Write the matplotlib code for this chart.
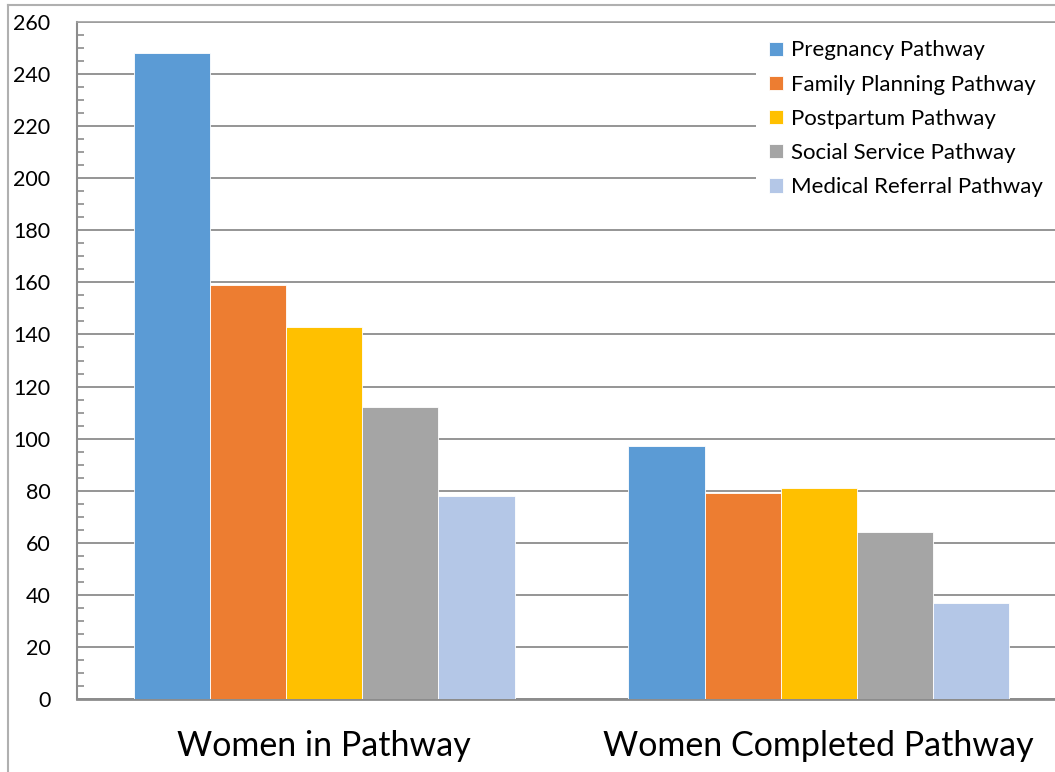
import matplotlib
matplotlib.use('Agg')
import matplotlib.pyplot as plt
import numpy as np
from matplotlib.ticker import MultipleLocator
from matplotlib.lines import Line2D

plt.rcParams['font.family'] = ['Lato', 'DejaVu Sans']

# ── Data ───────────────────────────────────────────────────────────────────────
groups = ['Women in Pathway', 'Women Completed Pathway']
series = ['Pregnancy Pathway', 'Family Planning Pathway', 'Postpartum Pathway',
          'Social Service Pathway', 'Medical Referral Pathway']
pregnancy = [248, 97]
family_planning = [159, 79]
postpartum = [143, 81]
social_service = [112, 64]
medical_referral = [78, 37]
values = [pregnancy, family_planning, postpartum, social_service, medical_referral]
colors = ['#5B9BD5', '#ED7D31', '#FFC000', '#A5A5A5', '#B4C7E7']

# ── Figure ─────────────────────────────────────────────────────────────────────
W, H = 1055, 772
fig = plt.figure(figsize=(W / 100, H / 100), dpi=100)
ax = fig.add_axes([77 / W, 73 / H, (1066 - 77) / W, (699 - 22) / H])

x = np.arange(len(groups))
bw = 0.154
for i, (name, vals, col) in enumerate(zip(series, values, colors)):
    ax.bar(x + (i - 2) * bw, vals, bw, color=col, label=name,
           edgecolor='white', linewidth=0.6, zorder=3)

ax.set_xlim(-0.5, 1.5)
ax.set_ylim(0, 260)
ax.yaxis.set_major_locator(MultipleLocator(20))
ax.yaxis.set_minor_locator(MultipleLocator(5))
ax.grid(axis='y', which='major', color='#8C8C8C', linewidth=1.3, zorder=0)

ax.set_xticks(x)
ax.set_xticklabels(groups, fontsize=24.5)
ax.tick_params(axis='x', length=0, pad=22)
ax.tick_params(axis='y', which='major', length=0, pad=19, labelsize=15.5)
ax.tick_params(axis='y', which='minor', direction='in', length=5,
               color='#8C8C8C', width=1.2)

for side in ['top', 'right']:
    ax.spines[side].set_color('#A0A0A0')
    ax.spines[side].set_linewidth(1.2)
ax.spines['left'].set_color('#8C8C8C')
ax.spines['left'].set_linewidth(1.5)
ax.spines['bottom'].set_color('#8C8C8C')
ax.spines['bottom'].set_linewidth(2)

leg = ax.legend(loc='upper left', bbox_to_anchor=(745 / W, 1 - 16 / H),
                bbox_transform=fig.transFigure, fontsize=16,
                frameon=True, fancybox=False, framealpha=1,
                handlelength=0.6, handleheight=0.6, handletextpad=0.35,
                labelspacing=0.64, borderpad=0.6)
leg.get_frame().set_edgecolor('none')
leg.get_frame().set_facecolor('white')
leg.set_zorder(5)

# outer chart border
fig.add_artist(Line2D([8 / W, 8 / W], [0, 1 - 5 / H], color='#B0B0B0', lw=1.5))
fig.add_artist(Line2D([8 / W, 1], [1 - 5 / H, 1 - 5 / H], color='#B0B0B0', lw=1.5))

fig.savefig('out.png', dpi=100)
